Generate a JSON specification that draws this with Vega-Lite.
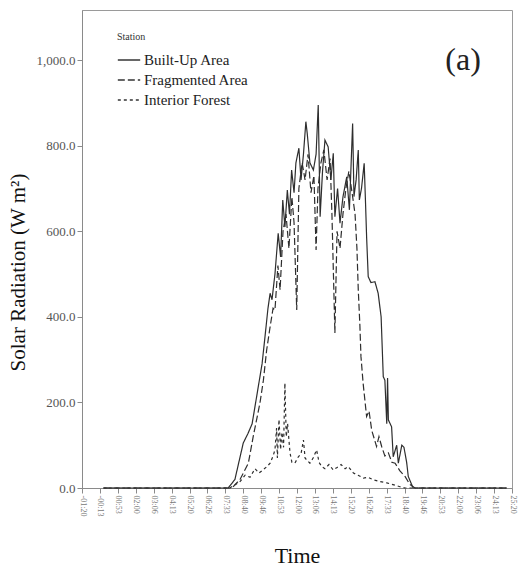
{
  "$schema": "https://vega.github.io/schema/vega-lite/v6.json",
  "width": 430,
  "height": 478,
  "autosize": "none",
  "padding": {"left": 82, "top": 10, "right": 6, "bottom": 84},
  "background": "white",
  "config": {
    "font": "Liberation Serif",
    "view": {"stroke": "#9a9a9a", "strokeWidth": 1},
    "axis": {"grid": false, "domainColor": "#8a8a8a", "tickColor": "#8a8a8a"}
  },
  "datasets": {
    "series": [
      {"station":"Built-Up Area","t":0,"v":0},{"station":"Built-Up Area","t":464,"v":0},{"station":"Built-Up Area","t":489,"v":20},{"station":"Built-Up Area","t":520,"v":105},{"station":"Built-Up Area","t":538,"v":128},{"station":"Built-Up Area","t":553,"v":150},{"station":"Built-Up Area","t":576,"v":237},{"station":"Built-Up Area","t":590,"v":290},{"station":"Built-Up Area","t":601,"v":354},{"station":"Built-Up Area","t":612,"v":420},{"station":"Built-Up Area","t":620,"v":455},{"station":"Built-Up Area","t":627,"v":440},{"station":"Built-Up Area","t":638,"v":500},{"station":"Built-Up Area","t":650,"v":595},{"station":"Built-Up Area","t":659,"v":540},{"station":"Built-Up Area","t":667,"v":673},{"station":"Built-Up Area","t":675,"v":610},{"station":"Built-Up Area","t":684,"v":696},{"station":"Built-Up Area","t":692,"v":640},{"station":"Built-Up Area","t":700,"v":743},{"station":"Built-Up Area","t":709,"v":690},{"station":"Built-Up Area","t":716,"v":760},{"station":"Built-Up Area","t":727,"v":794},{"station":"Built-Up Area","t":735,"v":720},{"station":"Built-Up Area","t":744,"v":780},{"station":"Built-Up Area","t":753,"v":856},{"station":"Built-Up Area","t":758,"v":829},{"station":"Built-Up Area","t":768,"v":760},{"station":"Built-Up Area","t":781,"v":743},{"station":"Built-Up Area","t":791,"v":780},{"station":"Built-Up Area","t":799,"v":895},{"station":"Built-Up Area","t":806,"v":634},{"station":"Built-Up Area","t":815,"v":740},{"station":"Built-Up Area","t":824,"v":813},{"station":"Built-Up Area","t":836,"v":797},{"station":"Built-Up Area","t":846,"v":720},{"station":"Built-Up Area","t":855,"v":782},{"station":"Built-Up Area","t":861,"v":634},{"station":"Built-Up Area","t":871,"v":700},{"station":"Built-Up Area","t":880,"v":619},{"station":"Built-Up Area","t":891,"v":680},{"station":"Built-Up Area","t":905,"v":727},{"station":"Built-Up Area","t":915,"v":650},{"station":"Built-Up Area","t":927,"v":852},{"station":"Built-Up Area","t":932,"v":681},{"station":"Built-Up Area","t":940,"v":720},{"station":"Built-Up Area","t":948,"v":790},{"station":"Built-Up Area","t":952,"v":673},{"station":"Built-Up Area","t":960,"v":700},{"station":"Built-Up Area","t":970,"v":759},{"station":"Built-Up Area","t":975,"v":666},{"station":"Built-Up Area","t":979,"v":587},{"station":"Built-Up Area","t":985,"v":494},{"station":"Built-Up Area","t":995,"v":480},{"station":"Built-Up Area","t":1010,"v":482},{"station":"Built-Up Area","t":1022,"v":455},{"station":"Built-Up Area","t":1033,"v":400},{"station":"Built-Up Area","t":1041,"v":260},{"station":"Built-Up Area","t":1047,"v":252},{"station":"Built-Up Area","t":1054,"v":150},{"station":"Built-Up Area","t":1057,"v":257},{"station":"Built-Up Area","t":1060,"v":159},{"station":"Built-Up Area","t":1072,"v":143},{"station":"Built-Up Area","t":1078,"v":73},{"station":"Built-Up Area","t":1091,"v":100},{"station":"Built-Up Area","t":1097,"v":58},{"station":"Built-Up Area","t":1110,"v":100},{"station":"Built-Up Area","t":1118,"v":95},{"station":"Built-Up Area","t":1128,"v":60},{"station":"Built-Up Area","t":1134,"v":27},{"station":"Built-Up Area","t":1152,"v":0},{"station":"Built-Up Area","t":1500,"v":0},
      {"station":"Fragmented Area","t":0,"v":0},{"station":"Fragmented Area","t":478,"v":0},{"station":"Fragmented Area","t":508,"v":20},{"station":"Fragmented Area","t":539,"v":58},{"station":"Fragmented Area","t":557,"v":120},{"station":"Fragmented Area","t":582,"v":198},{"station":"Fragmented Area","t":595,"v":252},{"station":"Fragmented Area","t":607,"v":322},{"station":"Fragmented Area","t":620,"v":377},{"station":"Fragmented Area","t":631,"v":420},{"station":"Fragmented Area","t":638,"v":416},{"station":"Fragmented Area","t":649,"v":520},{"station":"Fragmented Area","t":657,"v":463},{"station":"Fragmented Area","t":668,"v":600},{"station":"Fragmented Area","t":679,"v":640},{"station":"Fragmented Area","t":690,"v":560},{"station":"Fragmented Area","t":701,"v":680},{"station":"Fragmented Area","t":709,"v":620},{"station":"Fragmented Area","t":719,"v":416},{"station":"Fragmented Area","t":727,"v":700},{"station":"Fragmented Area","t":739,"v":760},{"station":"Fragmented Area","t":750,"v":720},{"station":"Fragmented Area","t":761,"v":780},{"station":"Fragmented Area","t":772,"v":690},{"station":"Fragmented Area","t":783,"v":730},{"station":"Fragmented Area","t":791,"v":556},{"station":"Fragmented Area","t":798,"v":700},{"station":"Fragmented Area","t":809,"v":760},{"station":"Fragmented Area","t":820,"v":790},{"station":"Fragmented Area","t":832,"v":720},{"station":"Fragmented Area","t":843,"v":770},{"station":"Fragmented Area","t":850,"v":640},{"station":"Fragmented Area","t":861,"v":362},{"station":"Fragmented Area","t":869,"v":600},{"station":"Fragmented Area","t":880,"v":560},{"station":"Fragmented Area","t":891,"v":640},{"station":"Fragmented Area","t":902,"v":700},{"station":"Fragmented Area","t":913,"v":740},{"station":"Fragmented Area","t":925,"v":690},{"station":"Fragmented Area","t":936,"v":640},{"station":"Fragmented Area","t":943,"v":560},{"station":"Fragmented Area","t":948,"v":463},{"station":"Fragmented Area","t":954,"v":380},{"station":"Fragmented Area","t":958,"v":307},{"station":"Fragmented Area","t":966,"v":245},{"station":"Fragmented Area","t":979,"v":167},{"station":"Fragmented Area","t":988,"v":180},{"station":"Fragmented Area","t":998,"v":135},{"station":"Fragmented Area","t":1016,"v":97},{"station":"Fragmented Area","t":1025,"v":120},{"station":"Fragmented Area","t":1035,"v":97},{"station":"Fragmented Area","t":1047,"v":75},{"station":"Fragmented Area","t":1060,"v":82},{"station":"Fragmented Area","t":1073,"v":60},{"station":"Fragmented Area","t":1085,"v":58},{"station":"Fragmented Area","t":1103,"v":40},{"station":"Fragmented Area","t":1122,"v":27},{"station":"Fragmented Area","t":1140,"v":8},{"station":"Fragmented Area","t":1159,"v":0},{"station":"Fragmented Area","t":1500,"v":0},
      {"station":"Interior Forest","t":0,"v":0},{"station":"Interior Forest","t":470,"v":0},{"station":"Interior Forest","t":508,"v":15},{"station":"Interior Forest","t":527,"v":30},{"station":"Interior Forest","t":545,"v":25},{"station":"Interior Forest","t":564,"v":45},{"station":"Interior Forest","t":579,"v":35},{"station":"Interior Forest","t":593,"v":42},{"station":"Interior Forest","t":608,"v":50},{"station":"Interior Forest","t":620,"v":58},{"station":"Interior Forest","t":631,"v":75},{"station":"Interior Forest","t":638,"v":89},{"station":"Interior Forest","t":644,"v":140},{"station":"Interior Forest","t":647,"v":70},{"station":"Interior Forest","t":653,"v":160},{"station":"Interior Forest","t":659,"v":90},{"station":"Interior Forest","t":664,"v":130},{"station":"Interior Forest","t":670,"v":95},{"station":"Interior Forest","t":675,"v":245},{"station":"Interior Forest","t":680,"v":120},{"station":"Interior Forest","t":685,"v":150},{"station":"Interior Forest","t":694,"v":82},{"station":"Interior Forest","t":701,"v":60},{"station":"Interior Forest","t":712,"v":58},{"station":"Interior Forest","t":725,"v":73},{"station":"Interior Forest","t":735,"v":80},{"station":"Interior Forest","t":744,"v":112},{"station":"Interior Forest","t":750,"v":70},{"station":"Interior Forest","t":757,"v":65},{"station":"Interior Forest","t":768,"v":58},{"station":"Interior Forest","t":780,"v":70},{"station":"Interior Forest","t":793,"v":89},{"station":"Interior Forest","t":802,"v":60},{"station":"Interior Forest","t":812,"v":50},{"station":"Interior Forest","t":824,"v":45},{"station":"Interior Forest","t":839,"v":55},{"station":"Interior Forest","t":855,"v":42},{"station":"Interior Forest","t":869,"v":48},{"station":"Interior Forest","t":884,"v":55},{"station":"Interior Forest","t":899,"v":45},{"station":"Interior Forest","t":911,"v":50},{"station":"Interior Forest","t":930,"v":35},{"station":"Interior Forest","t":947,"v":30},{"station":"Interior Forest","t":967,"v":23},{"station":"Interior Forest","t":984,"v":25},{"station":"Interior Forest","t":1004,"v":19},{"station":"Interior Forest","t":1029,"v":15},{"station":"Interior Forest","t":1054,"v":12},{"station":"Interior Forest","t":1077,"v":8},{"station":"Interior Forest","t":1103,"v":3},{"station":"Interior Forest","t":1122,"v":0},{"station":"Interior Forest","t":1500,"v":0}
    ],
    "panel": [{"label": "(a)", "t": 1338, "v": 1000}]
  },
  "layer": [
    {
      "data": {"name": "series"},
      "mark": {"type": "line", "color": "#2e2e2e", "strokeWidth": 1.2, "interpolate": "linear"},
      "encoding": {
        "x": {
          "field": "t", "type": "quantitative",
          "scale": {"domain": [-80, 1520], "nice": false, "zero": false},
          "axis": {
            "title": "Time", "titleFontSize": 22, "titleFontWeight": "normal", "titleColor": "#111", "titlePadding": 30,
            "values": [-80,-13.333,53.333,120,186.667,253.333,320,386.667,453.333,520,586.667,653.333,720,786.667,853.333,920,986.667,1053.333,1120,1186.667,1253.333,1320,1386.667,1453.333,1520],
            "tickCount": 100,
            "labelExpr": "(datum.value < 0 ? '-' : '') + (floor(abs(datum.value)/60) < 10 ? '0' : '') + floor(abs(datum.value)/60) + ':' + (floor(abs(datum.value)%60) < 10 ? '0' : '') + floor(abs(datum.value)%60)",
            "labelAngle": 90, "labelAlign": "left", "labelBaseline": "middle", "labelFontSize": 8, "labelColor": "#777", "labelPadding": 2,
            "labelOverlap": false, "labelFlush": false, "tickSize": 5
          }
        },
        "y": {
          "field": "v", "type": "quantitative",
          "scale": {"domain": [0, 1117], "nice": false},
          "axis": {
            "title": "Solar Radiation (W m²)", "titleFontSize": 21, "titleFontWeight": "normal", "titleColor": "#111", "titlePadding": 8, "titleY": 262,
            "values": [0, 200, 400, 600, 800, 1000], "format": ",.1f",
            "labelFontSize": 13, "labelColor": "#555", "tickSize": 5, "labelPadding": 2
          }
        },
        "strokeDash": {
          "field": "station", "type": "nominal",
          "scale": {"domain": ["Built-Up Area", "Fragmented Area", "Interior Forest"], "range": [[1, 0], [7, 3], [3, 3]]},
          "legend": {
            "title": "Station", "orient": "none", "legendX": 35, "legendY": 22,
            "titleFontSize": 10, "titleFontWeight": "normal", "titleColor": "#333", "titlePadding": 6, "titleAnchor": "start",
            "labelFontSize": 15, "labelColor": "#222", "symbolType": "stroke", "symbolSize": 500, "symbolStrokeColor": "#333", "symbolStrokeWidth": 1.3,
            "rowPadding": -3, "labelOffset": 3
          }
        },
        "order": {"field": "t", "type": "quantitative"}
      }
    },
    {
      "data": {"name": "panel"},
      "mark": {"type": "text", "fontSize": 32, "color": "#222", "align": "center", "baseline": "middle"},
      "encoding": {
        "x": {"field": "t", "type": "quantitative"},
        "y": {"field": "v", "type": "quantitative"},
        "text": {"field": "label"}
      }
    }
  ]
}
